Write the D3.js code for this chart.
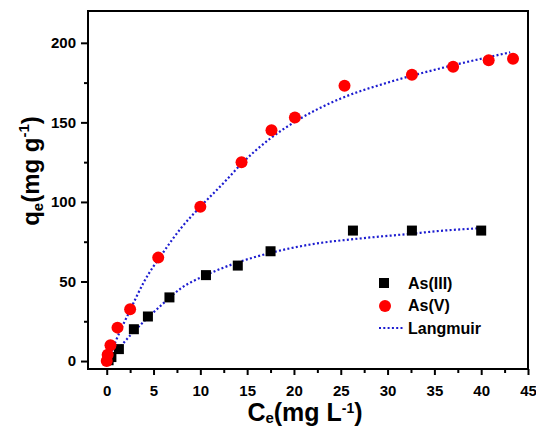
<!DOCTYPE html>
<html>
<head>
<meta charset="utf-8">
<script src="https://cdn.jsdelivr.net/npm/d3@7"></script>
<style>
  body { margin: 0; background: #fff; }
  text { font-family: "Liberation Sans", Arial, sans-serif; font-weight: bold; fill: #000; }
</style>
</head>
<body>
<svg id="chart"></svg>
<script>
// measured points
var as3C = [0.2, 0.5, 1.3, 2.9, 4.4, 6.7, 10.6, 14.0, 17.5, 26.3, 32.6, 40.0];
var as3Q = [0.5, 2.5, 7.5, 20, 28, 40, 54, 60, 69, 82, 82, 82];
var as5C = [0.0, 0.1, 0.4, 1.15, 2.5, 5.5, 10.0, 14.4, 17.6, 20.1, 25.4, 32.6, 37.0, 40.8, 43.4];
var as5Q = [0, 4, 10, 21, 32.5, 65, 97, 125, 145, 153, 173, 180, 185, 189, 190];

// Langmuir fit curves
var fit3C = [0.3, 1, 2.5, 4, 6, 8, 10.6, 14, 17.5, 22, 27, 32.5, 36, 39.7];
var fit3Q = [1, 6, 16, 25, 36, 46, 54, 62, 68, 73.5, 77, 80, 82, 83.4];
var fit5C = [0.2, 1, 2.5, 4, 6, 8, 10, 12.5, 14.4, 17.5, 20, 25, 30, 35, 40, 43.1];
var fit5Q = [1, 13, 32, 50, 68, 84, 97, 112, 124, 140, 150, 165, 175, 183, 190, 194];

var xTicks = [0, 5, 10, 15, 20, 25, 30, 35, 40, 45];
var yTicks = [0, 50, 100, 150, 200];

var width = 536, height = 427;
var margin = {top: 11, right: 8, bottom: 58, left: 88};

var svg = d3.select('#chart')
  .attr("width", width)
  .attr("height", height);

var x = d3.scaleLinear().domain([-2, 45]).range([margin.left, width - margin.right]);
var y = d3.scaleLinear().domain([-5, 220]).range([height - margin.bottom, margin.top]);

var lineBlue = "#1c1cd0";

// minor ticks
var xMinor = d3.range(-2.5, 45, 5).filter(d => d > -2);
var yMinor = d3.range(25, 220, 50);

svg.append("g")
  .attr("transform", `translate(0,${height - margin.bottom})`)
  .call(d3.axisBottom(x).tickValues(xTicks).tickSize(6).tickPadding(10).tickFormat(d3.format("d")));
svg.append("g")
  .attr("transform", `translate(0,${height - margin.bottom})`)
  .call(d3.axisBottom(x).tickValues(xMinor).tickSize(4).tickFormat(""));

svg.append("g")
  .attr("transform", `translate(${margin.left},0)`)
  .call(d3.axisLeft(y).tickValues(yTicks).tickSize(7).tickPadding(5));
svg.append("g")
  .attr("transform", `translate(${margin.left},0)`)
  .call(d3.axisLeft(y).tickValues(yMinor).tickSize(4).tickFormat(""));

svg.selectAll(".domain").remove();
svg.selectAll(".tick line").attr("stroke", "#000").attr("stroke-width", 2);
svg.selectAll(".tick text").style("font-size", "15px").style("font-family", '"Liberation Sans", Arial, sans-serif').style("font-weight", "bold");

// frame
svg.append("rect")
  .attr("x", margin.left)
  .attr("y", margin.top)
  .attr("width", width - margin.left - margin.right)
  .attr("height", height - margin.top - margin.bottom)
  .attr("fill", "none")
  .attr("stroke", "#000")
  .attr("stroke-width", 2);

// fit lines
var line = d3.line()
  .x(d => x(d[0]))
  .y(d => y(d[1]))
  .curve(d3.curveMonotoneX);

[[fit3C, fit3Q], [fit5C, fit5Q]].forEach(s => {
  svg.append("path")
    .datum(d3.zip(s[0], s[1]))
    .attr("d", line)
    .attr("fill", "none")
    .attr("stroke", lineBlue)
    .attr("stroke-width", 2.2)
    .attr("stroke-dasharray", "2,2.3");
});

// As(III) squares
svg.selectAll(".sq")
  .data(d3.zip(as3C, as3Q))
  .enter()
  .append("rect")
  .attr("x", d => x(d[0]) - 5)
  .attr("y", d => y(d[1]) - 5)
  .attr("width", 10)
  .attr("height", 10)
  .attr("fill", "#000");

// As(V) circles
svg.selectAll(".dot")
  .data(d3.zip(as5C, as5Q))
  .enter()
  .append("circle")
  .attr("cx", d => x(d[0]))
  .attr("cy", d => y(d[1]))
  .attr("r", 6)
  .attr("fill", "#ff0000");

// legend
var lg = svg.append("g").attr("transform", "translate(384,283)");
lg.append("rect").attr("x", -5).attr("y", -5).attr("width", 10).attr("height", 10).attr("fill", "#000");
lg.append("circle").attr("cx", 1).attr("cy", 23).attr("r", 6).attr("fill", "#ff0000");
lg.append("line").attr("x1", -5).attr("x2", 19).attr("y1", 45).attr("y2", 45)
  .attr("stroke", lineBlue).attr("stroke-width", 2.2).attr("stroke-dasharray", "2,2.3");
["As(III)", "As(V)", "Langmuir"].forEach((t, i) => {
  lg.append("text").attr("x", 24).attr("y", i * 22.5 + 5.5).style("font-size", "16px").text(t);
});

// axis titles
var xt = svg.append("text")
  .attr("x", 305)
  .attr("y", 421)
  .attr("text-anchor", "middle")
  .style("font-size", "25px");
xt.append("tspan").text("C");
xt.append("tspan").attr("dy", 2).style("font-size", "15px").text("e");
xt.append("tspan").attr("dy", -2).text("(mg L");
xt.append("tspan").attr("dy", -8).style("font-size", "14px").text("-1");
xt.append("tspan").attr("dy", 8).text(")");

var yt = svg.append("text")
  .attr("transform", "translate(39,171) rotate(-90)")
  .attr("text-anchor", "middle")
  .style("font-size", "24px");
yt.append("tspan").text("q");
yt.append("tspan").attr("dy", 4).style("font-size", "15px").text("e");
yt.append("tspan").attr("dy", -4).text("(mg g");
yt.append("tspan").attr("dy", -10).style("font-size", "15px").text("-1");
yt.append("tspan").attr("dy", 10).text(")");
</script>
</body>
</html>
